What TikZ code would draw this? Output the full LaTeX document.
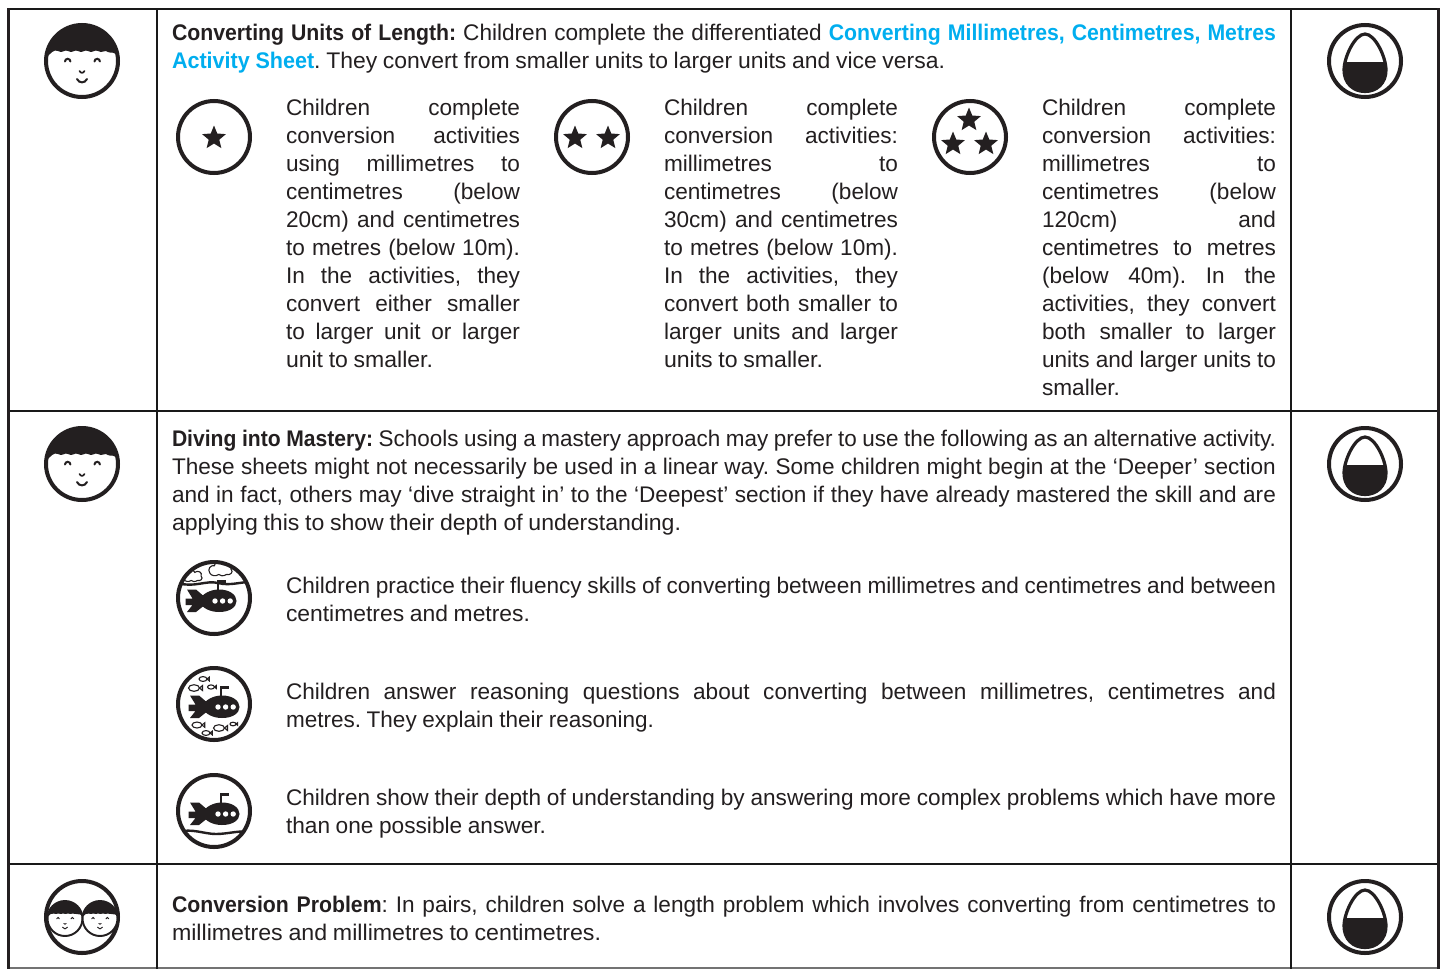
\documentclass[tikz,border=0pt]{standalone}
\usepackage{fontspec}
\usepackage{graphicx}
\setmainfont[BoldFeatures={FakeStretch=0.94}]{Liberation Sans}
\usetikzlibrary{shapes.geometric}
\definecolor{ink}{HTML}{231F20}
\definecolor{linkblue}{HTML}{00AEEF}
\newcommand{\lnk}[1]{\textcolor{linkblue}{\textbf{#1}}}
\newsavebox{\linebox}
% justified line: stretches its spaces, or is condensed to fit when too long
\newcommand{\jl}[1]{\sbox{\linebox}{\rule{0pt}{18pt}#1}%
  \ifdim\wd\linebox>\linewidth
    \noindent\hbox{\resizebox{\linewidth}{\height}{\usebox{\linebox}}}\par
  \else
    \noindent\hbox to \linewidth{\rule{0pt}{18pt}#1}\par
  \fi}
% last line: set to a given width
\newcommand{\wl}[2]{\noindent\hbox{\resizebox{#1pt}{\height}{\rule{0pt}{18pt}#2}}\par}
\tikzset{
  x=1pt,y=-1pt,
  gridline/.style={line width=2pt,draw=black!90},
  sideline/.style={line width=3pt,draw=ink},
  ring/.style={line width=4pt,draw=ink,fill=white},
  bodytext/.style={anchor=north west,inner sep=0pt,outer sep=0pt,text=ink,font=\fontsize{22.6}{28}\selectfont,
    execute at begin node={\frenchspacing\spaceskip=5.6pt plus 300pt\relax\hbadness=10000\hfuzz=30pt\parindent=0pt\parskip=0pt\lineskip=0pt\lineskiplimit=-20pt}},
  starmark/.style={star,star points=5,star point ratio=2.25,fill=ink,inner sep=0pt,minimum size=25pt,draw=none},
  pics/facepic/.style={code={
    \fill[white] (0,0) circle (#1);
    \begin{scope}[scale=#1/36]
      \fill[ink] (-35,-4) arc[start angle=187,end angle=353,radius=35.5]
        .. controls (32,-11) and (29,-7) .. (26,-9) .. controls (23,-12) and (20,-7) .. (16,-10)
        .. controls (13,-12) and (10,-7) .. (6,-10) .. controls (3,-12) and (0,-7) .. (-4,-10)
        .. controls (-7,-12) and (-10,-7) .. (-14,-10) .. controls (-17,-12) and (-20,-7) .. (-24,-10)
        .. controls (-28,-12) and (-31,-8) .. (-35,-4) -- cycle;
      \draw[ink,line width=#1/18*1pt,line cap=round] (-17,0.5) arc[start angle=180,end angle=360,x radius=2.7,y radius=2.7];
      \draw[ink,line width=#1/18*1pt,line cap=round] (12.5,0.5) arc[start angle=180,end angle=360,x radius=2.7,y radius=2.7];
      \draw[ink,line width=#1/22*1pt,line cap=round] (-2.5,10) .. controls (-1,12.5) and (1,12.5) .. (2.5,10);
      \draw[ink,line width=#1/18*1pt,line cap=round] (-5,18) .. controls (-3,22.5) and (3,22.5) .. (5,18);
    \end{scope}
    \draw[ink,line width=#1/9*1pt] (0,0) circle (#1);
  }},
  pics/eggpic/.style={code={
    \draw[ring] (0,0) circle (36);
    \begin{scope}
      \clip (0,-27) .. controls (-10,-27) and (-21,-4) .. (-21,9) .. controls (-21,22) and (-12,30.5) .. (0,30.5)
        .. controls (12,30.5) and (21,22) .. (21,9) .. controls (21,-4) and (10,-27) .. (0,-27) -- cycle;
      \fill[ink] (-30,1) rectangle (30,40);
    \end{scope}
    \draw[ink,line width=3.2pt] (0,-27) .. controls (-10,-27) and (-21,-4) .. (-21,9) .. controls (-21,22) and (-12,30.5) .. (0,30.5)
        .. controls (12,30.5) and (21,22) .. (21,9) .. controls (21,-4) and (10,-27) .. (0,-27) -- cycle;
  }},
  pics/subpic/.style={code={
    \fill[ink] (-16,3) .. controls (-11,-5) and (-3,-8.5) .. (5,-8.5) .. controls (16,-8.5) and (22.5,-3) .. (22.5,3)
      .. controls (22.5,9) and (16,14) .. (5,14) .. controls (-3,14) and (-11,11) .. (-16,3) -- cycle;
    \fill[ink] (-27,-8.5) -- (-18,-8.5) -- (-8,0) -- (-8,6) -- (-18,14) -- (-27,14) -- (-21.5,7) -- (-28.5,7) -- (-28.5,0.5) -- (-21.5,0.5) -- cycle;
    \draw[ink,line width=2.6pt] (4,-7) -- (4,-16.5) -- (11.5,-16.5);
    \fill[white] (1,3) circle (2.7) (8.6,3) circle (2.7) (16.2,3) circle (2.7);
  }},
  fishmark/.style={draw=ink,line width=1.1pt,fill=white},
  pics/fishpic/.style={code={
    \draw[fishmark] (#1,0) -- (#1*1.55,-#1*0.45) -- (#1*1.55,#1*0.45) -- cycle;
    \draw[fishmark] (0,0) ellipse (#1 and #1*0.6);
  }},
  pics/cloudpic/.style={code={
    \draw[fishmark,scale=#1] (-10,4) .. controls (-13,0) and (-9,-4) .. (-6,-3) .. controls (-6,-8) and (1,-8) .. (2,-4)
      .. controls (5,-7) and (11,-4) .. (9,0) .. controls (12,3) and (8,6) .. (5,5) .. controls (2,7) and (-1,6) .. (-2,5)
      .. controls (-5,7) and (-9,6) .. (-10,4) -- cycle;
  }}
}
\begin{document}
\begin{tikzpicture}
\useasboundingbox (0,0) rectangle (1447,969);
\fill[white] (0,0) rectangle (1447,969);
% grid
\draw[gridline] (7,8.5) -- (1440,8.5);
\draw[gridline] (7,411) -- (1440,411);
\draw[gridline] (7,864) -- (1440,864);
\draw[line width=1.5pt,draw=black!55] (7,968) -- (1440,968);
\draw[sideline] (8,8) -- (8,969);
\draw[sideline] (1438.5,8) -- (1438.5,969);
\draw[gridline] (157,8) -- (157,969);
\draw[gridline] (1291,8) -- (1291,969);
% side icons
\pic at (82,61) {facepic=36};
\pic at (82,464) {facepic=36};
\pic at (1365,61) {eggpic};
\pic at (1365,464) {eggpic};
\pic at (1365,917) {eggpic};
\draw[ring] (82,917) circle (36);
\pic at (65,918.5) {facepic=17.5};
\pic at (100,918.5) {facepic=17.5};
% text row 1
\node[bodytext,text width=1104pt] (intro) at (172,22) {\jl{\textbf{Converting Units of Length:} Children complete the differentiated \lnk{Converting Millimetres, Centimetres, Metres}}\wl{773}{\lnk{Activity Sheet}. They convert from smaller units to larger units and vice versa.}};
\draw[ring] (214,137) circle (36);
\node[starmark] (s1) at (214,138) {};
\node[bodytext,text width=234pt] (c1) at (286,97.5) {\jl{Children complete}\jl{conversion activities}\jl{using millimetres to}\jl{centimetres (below}\jl{20cm) and centimetres}\jl{to metres (below 10m).}\jl{In the activities, they}\jl{convert either smaller}\jl{to larger unit or larger}\wl{147}{unit to smaller.}};
\draw[ring] (592,137) circle (36);
\node[starmark] (s2a) at (575,138) {};
\node[starmark] (s2b) at (608,138) {};
\node[bodytext,text width=234pt] (c2) at (664,97.5) {\jl{Children complete}\jl{conversion activities:}\jl{millimetres to}\jl{centimetres (below}\jl{30cm) and centimetres}\jl{to metres (below 10m).}\jl{In the activities, they}\jl{convert both smaller to}\jl{larger units and larger}\wl{159}{units to smaller.}};
\draw[ring] (970,137) circle (36);
\node[starmark] (s3a) at (969,120) {};
\node[starmark] (s3b) at (953,144) {};
\node[starmark] (s3c) at (986,144) {};
\node[bodytext,text width=234pt] (c3) at (1042,97.5) {\jl{Children complete}\jl{conversion activities:}\jl{millimetres to}\jl{centimetres (below}\jl{120cm) and}\jl{centimetres to metres}\jl{(below 40m). In the}\jl{activities, they convert}\jl{both smaller to larger}\jl{units and larger units to}\wl{78}{smaller.}};
% row 2
\node[bodytext,text width=1104pt] (mastery) at (172,428) {\jl{\textbf{Diving into Mastery:} Schools using a mastery approach may prefer to use the following as an alternative activity.}\jl{These sheets might not necessarily be used in a linear way. Some children might begin at the ‘Deeper’ section}\jl{and in fact, others may ‘dive straight in’ to the ‘Deepest’ section if they have already mastered the skill and are}\wl{509}{applying this to show their depth of understanding.}};
% submarine 1
\begin{scope}[shift={(214,598)}]
  \clip (0,0) circle (36);
  \draw[ink,line width=2.4pt] (-36,-15) .. controls (-20,-10) and (-8,-18) .. (4,-15) .. controls (16,-12) and (26,-16) .. (36,-16);
  \pic at (-21,-22) {cloudpic=0.9};
  \pic at (7,-29) {cloudpic=1.1};
\end{scope}
\draw[line width=4pt,draw=ink] (214,598) circle (36);
\pic at (214,598) {subpic};
\node[bodytext,text width=990pt] (d1) at (286,575) {\jl{Children practice their fluency skills of converting between millimetres and centimetres and between}\wl{244}{centimetres and metres.}};
% submarine 2
\draw[ring] (214,704) circle (36);
\pic at (217,704) {subpic};
\begin{scope}[shift={(214,704)}]
  \pic at (-20,-16) {fishpic=5.5};
  \pic at (-11,-25) {fishpic=4};
  \pic at (-3,-17) {fishpic=3.5};
  \pic at (-17,21) {fishpic=5};
  \pic at (-8,29) {fishpic=4};
  \pic at (5,24) {fishpic=5.5};
  \pic at (19,20) {fishpic=3};
\end{scope}
\node[bodytext,text width=990pt] (d2) at (286,681) {\jl{Children answer reasoning questions about converting between millimetres, centimetres and}\wl{368}{metres. They explain their reasoning.}};
% submarine 3
\begin{scope}[shift={(214,811)}]
  \clip (0,0) circle (36);
  \draw[ink,line width=2.4pt] (-36,21) .. controls (-22,17) and (-10,23) .. (2,23) .. controls (14,23) and (26,19) .. (36,21);
\end{scope}
\draw[line width=4pt,draw=ink] (214,811) circle (36);
\pic at (217,811) {subpic};
\node[bodytext,text width=990pt] (d3) at (286,787) {\jl{Children show their depth of understanding by answering more complex problems which have more}\wl{260}{than one possible answer.}};
% row 3
\node[bodytext,text width=1104pt] (conv) at (172,894) {\jl{\textbf{Conversion Problem}: In pairs, children solve a length problem which involves converting from centimetres to}\wl{429}{millimetres and millimetres to centimetres.}};
\end{tikzpicture}
\end{document}
